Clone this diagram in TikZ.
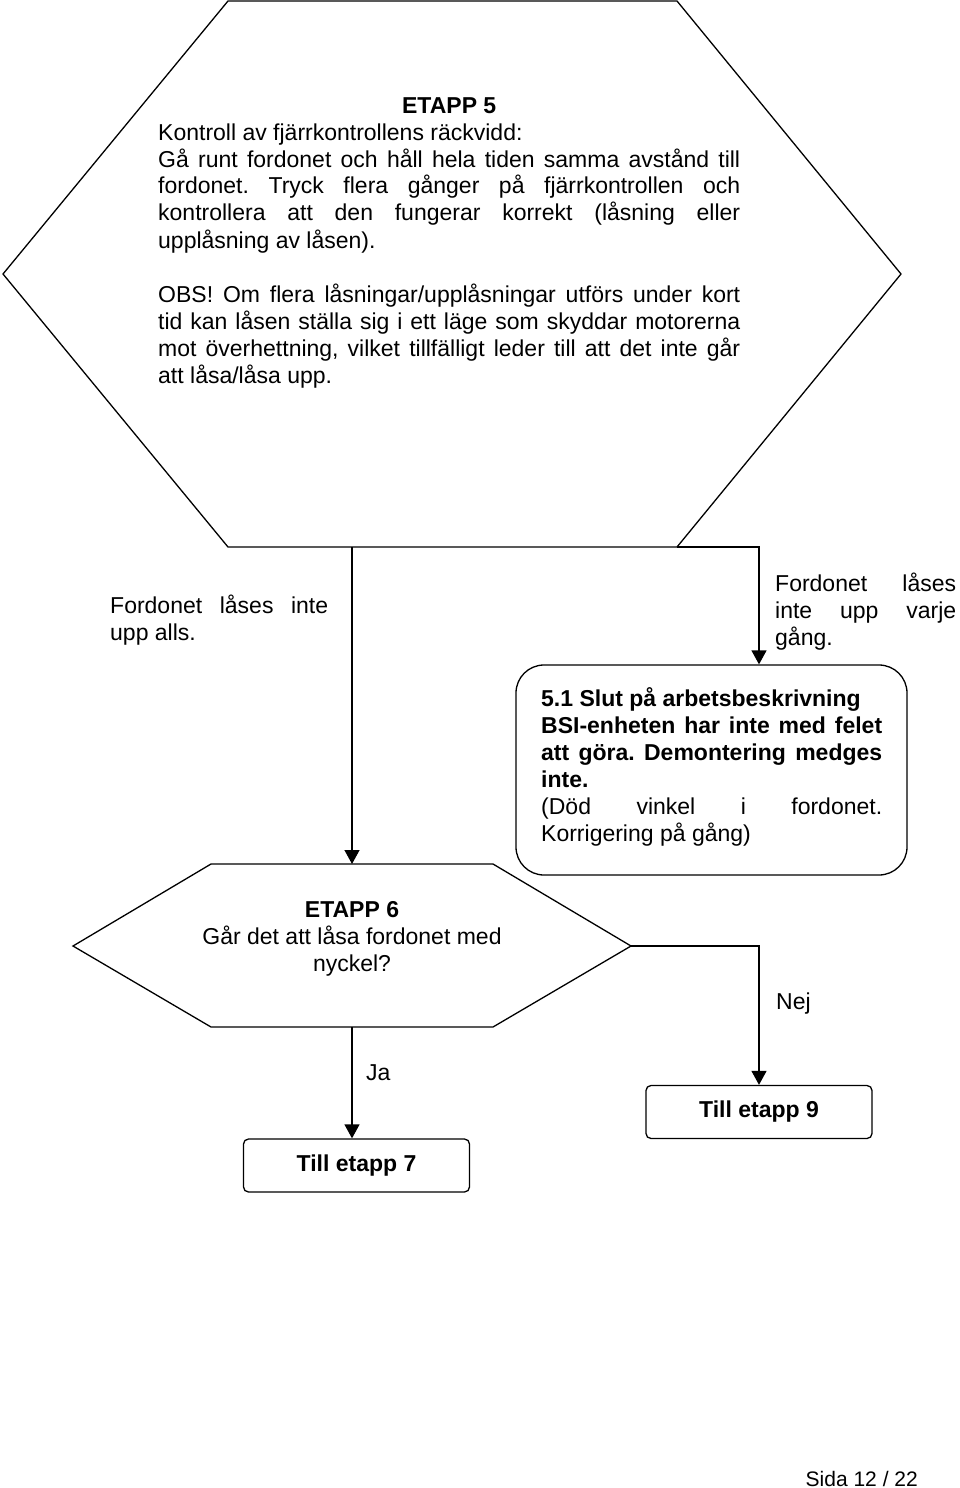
\documentclass[tikz,border=0pt]{standalone}
\usepackage{fontspec}
\setmainfont{Liberation Sans}
\usetikzlibrary{positioning,arrows.meta}
\hyphenpenalty=10000
\exhyphenpenalty=10000
\tolerance=9999
\emergencystretch=20pt
\frenchspacing

\tikzset{
  flow/.style={line width=1.3pt,-{Stealth[length=14pt,width=15pt,inset=0pt]}},
  outline/.style={line width=1.3pt},
  txt/.style={font=\fontsize{23}{27}\selectfont,inner sep=0pt},
  endbox/.style={draw,line width=1.3pt,rounded corners=5pt,minimum width=226pt,
    minimum height=53pt,font=\fontsize{23}{27}\selectfont\bfseries,inner sep=0pt},
}

\begin{document}
\begin{tikzpicture}[x=1pt,y=-1pt]
  \useasboundingbox (0,0) rectangle (960,1488);

  %etapp 5
  \coordinate (e5tl) at (228,1);
  \coordinate (e5tr) at (677,1);
  \coordinate (e5r) at (901,274);
  \coordinate (e5br) at (677,547);
  \coordinate (e5bl) at (228,547);
  \coordinate (e5l) at (3,274);
  \draw[outline] (e5tl) -- (e5tr) -- (e5r) -- (e5br) -- (e5bl) -- (e5l) -- cycle;
  \node[txt,text width=582pt,align=justify,anchor=base west] (etapp5) at (158,113) {%
    \centerline{\textbf{ETAPP 5}}
    Kontroll av fjärrkontrollens räckvidd:\par
    Gå runt fordonet och håll hela tiden samma avstånd till\linebreak
    fordonet. Tryck flera gånger på fjärrkontrollen och\linebreak
    kontrollera att den fungerar korrekt (låsning eller\linebreak
    upplåsning av låsen).\par
    \vspace{27pt}
    OBS! Om flera låsningar/upplåsningar utförs under kort\linebreak
    tid kan låsen ställa sig i ett läge som skyddar motorerna\linebreak
    mot överhettning, vilket tillfälligt leder till att det inte går\linebreak
    att låsa/låsa upp.};

  %etapp 6
  \coordinate (e6tl) at (211,864);
  \coordinate (e6tr) at (493,864);
  \coordinate (e6r) at (631,946);
  \coordinate (e6br) at (493,1027);
  \coordinate (e6bl) at (211,1027);
  \coordinate (e6l) at (73,946);
  \draw[outline] (e6tl) -- (e6tr) -- (e6r) -- (e6br) -- (e6bl) -- (e6l) -- cycle;
  \node[txt,align=center,anchor=base] (etapp6) at (352,971) {%
    \textbf{ETAPP 6}\\Går det att låsa fordonet med\\nyckel?};

  %5.1
  \node[draw,outline,rounded corners=28pt,minimum width=391pt,minimum height=210pt,inner sep=0pt]
    (slut) at (711.5,770) {};
  \node[txt,text width=341pt,align=justify,anchor=base west] (sluttext) at (541,706) {%
    \textbf{5.1 Slut på arbetsbeskrivning}\par
    \textbf{BSI-enheten har inte med felet\linebreak
    att göra. Demontering medges\linebreak
    inte.}\par
    (Död vinkel i fordonet.\linebreak
    Korrigering på gång)};

  %till etapp
  \node[endbox] (till7) at (356.5,1165.5) {Till etapp 7};
  \node[endbox] (till9) at (759,1112) {Till etapp 9};

  %e5>e6, e5>5.1
  \coordinate (e5out) at (352,547);
  \draw[flow] (e5out) -- (e5out |- e6tl);
  \draw[flow] (e5br) -| (slut.north -| till9.north);
  \node[txt,text width=218pt,align=justify,anchor=base west] (ejalls) at (110,613) {%
    Fordonet låses inte\linebreak upp alls.};
  \node[txt,text width=181pt,align=justify,anchor=base west] (ejvarje) at (775,591) {%
    Fordonet låses\linebreak inte upp varje\linebreak gång.};

  %e6>till
  \coordinate (e6out) at (352,1027);
  \draw[flow] (e6out) -- (e6out |- till7.north);
  \draw[flow] (e6r) -| (till9.north);
  \node[txt,anchor=base west] (ja) at (366,1080) {Ja};
  \node[txt,anchor=base west] (nej) at (776,1009) {Nej};

  \node[txt,font=\fontsize{21}{25}\selectfont,anchor=base east] (sida) at (918,1486) {Sida 12 / 22};
\end{tikzpicture}
\end{document}
